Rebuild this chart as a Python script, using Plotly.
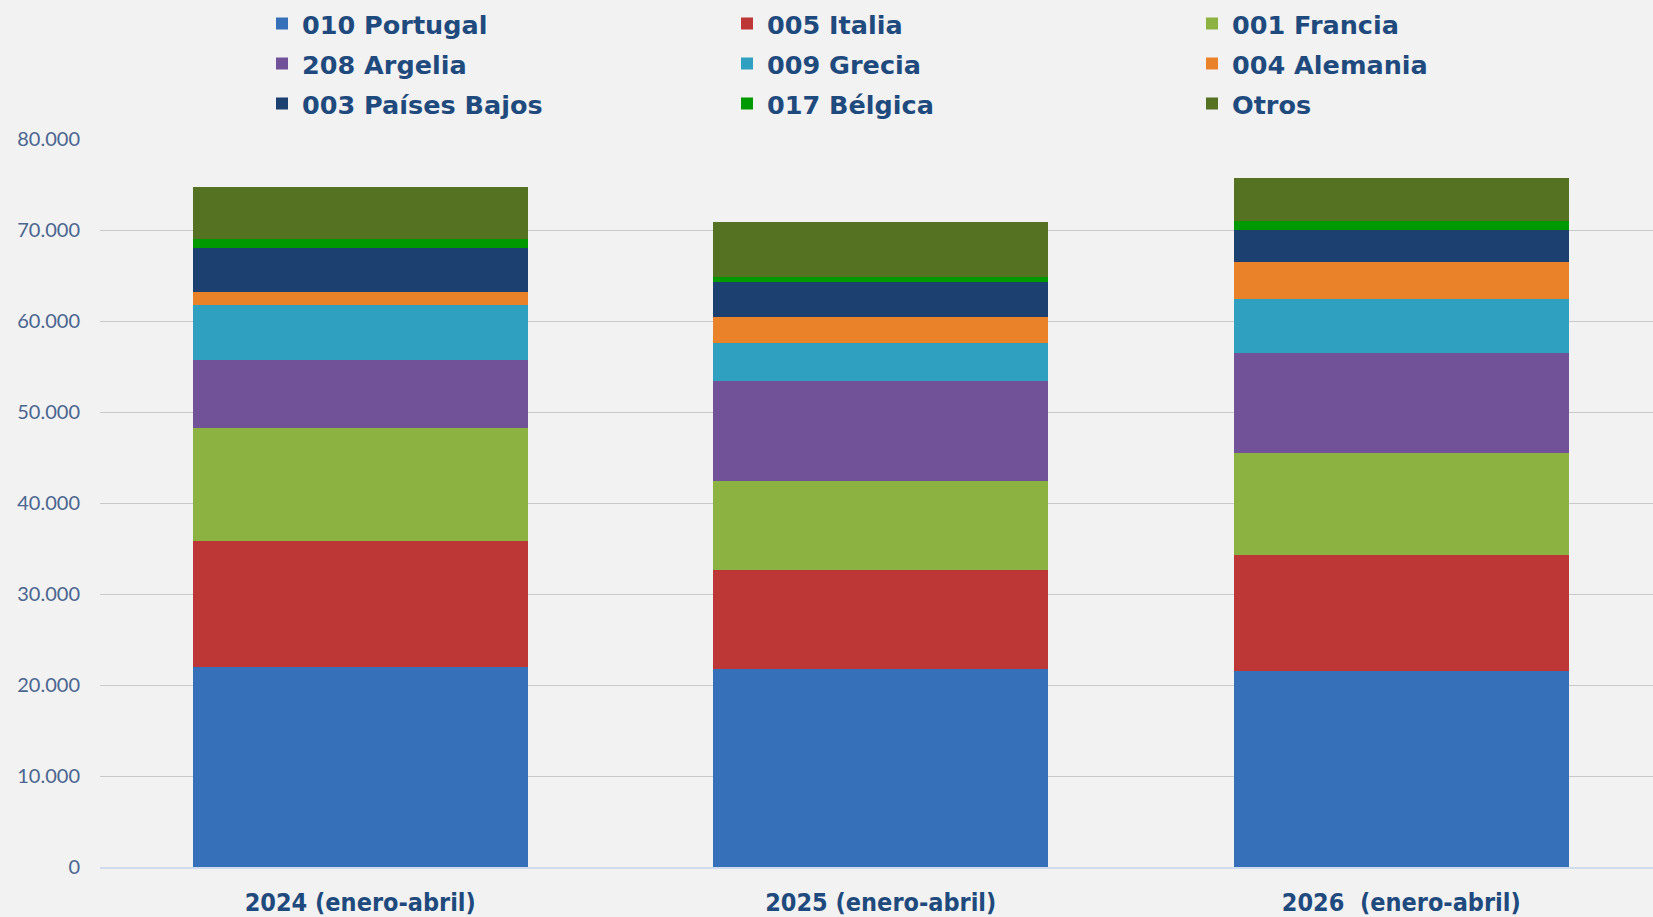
import plotly.graph_objects as go

categories = ["2024 (enero-abril)", "2025 (enero-abril)", "2026  (enero-abril)"]

series_names = ["010 Portugal", "005 Italia", "001 Francia",
                "208 Argelia", "009 Grecia", "004 Alemania",
                "003 Países Bajos", "017 Bélgica", "Otros"]

portugal = [22010, 21790, 21540]
italia = [13830, 10800, 12750]
francia = [12400, 9780, 11200]
argelia = [7510, 10990, 11030]
grecia = [6040, 4260, 5900]
alemania = [1430, 2780, 4020]
paises_bajos = [4800, 3920, 3590]
belgica = [950, 470, 960]
otros = [5710, 6050, 4760]

series_values = [portugal, italia, francia, argelia, grecia, alemania,
                 paises_bajos, belgica, otros]

series_colors = ["#3570b9", "#bc3735", "#8cb241", "#715198", "#30a0c0",
                 "#ea822a", "#1c4170", "#009900", "#557122"]

ytick_values = [0, 10000, 20000, 30000, 40000, 50000, 60000, 70000, 80000]
ytick_labels = ["0", "10.000", "20.000", "30.000", "40.000", "50.000",
                "60.000", "70.000", "80.000"]

W, H = 1653, 917
legend_rows_y = [24, 64, 104]
legend_left = 262

fig = go.Figure()
for i, (name, vals, col) in enumerate(zip(series_names, series_values, series_colors)):
    row = i // 3
    lg = "legend" if row == 0 else f"legend{row + 1}"
    fig.add_trace(go.Bar(
        x=categories, y=vals, name=name,
        marker=dict(color=col, line=dict(width=0)),
        width=0.644,
        legend=lg,
        hoverinfo="x+y+name",
    ))

legend_font = dict(family="DejaVu Sans, Verdana, sans-serif", size=25.5,
                   color="#1f4a7e", weight="bold")
legend_common = dict(orientation="h", xref="container", yref="container",
                     xanchor="left", yanchor="middle", x=legend_left / W,
                     font=legend_font, bgcolor="rgba(0,0,0,0)",
                     entrywidth=420, entrywidthmode="pixels",
                     traceorder="normal", borderwidth=0)

fig.update_layout(
    width=W, height=H,
    barmode="stack",
    paper_bgcolor="#f2f2f2",
    plot_bgcolor="#f2f2f2",
    margin=dict(l=100, r=0, t=139, b=50, autoexpand=False),
    showlegend=True,
    legend=dict(legend_common, y=1 - legend_rows_y[0] / H),
    legend2=dict(legend_common, y=1 - legend_rows_y[1] / H),
    legend3=dict(legend_common, y=1 - legend_rows_y[2] / H),
    xaxis=dict(
        range=[-0.5, 2.4837],
        showgrid=False,
        showline=True, linecolor="#cfdcee", linewidth=2,
        ticks="",
        tickfont=dict(family="DejaVu Sans Condensed, DejaVu Sans, sans-serif",
                      size=25, color="#1f4a7e", weight="bold"),
        ticklabelstandoff=12,
        automargin=False,
        fixedrange=True,
    ),
    yaxis=dict(
        range=[0, 80000],
        tickvals=ytick_values, ticktext=ytick_labels,
        showgrid=True, gridcolor="#c9c9c9", gridwidth=1,
        zeroline=False, showline=False, ticks="",
        tickfont=dict(family="Lato, sans-serif", size=20, color="#4a6590"),
        ticklabelstandoff=19,
        automargin=False,
        fixedrange=True,
    ),
)

fig.write_html(
    "out.html",
    config={"displayModeBar": False},
    post_script="document.body.style.margin='0';document.body.style.overflow='hidden';",
)
